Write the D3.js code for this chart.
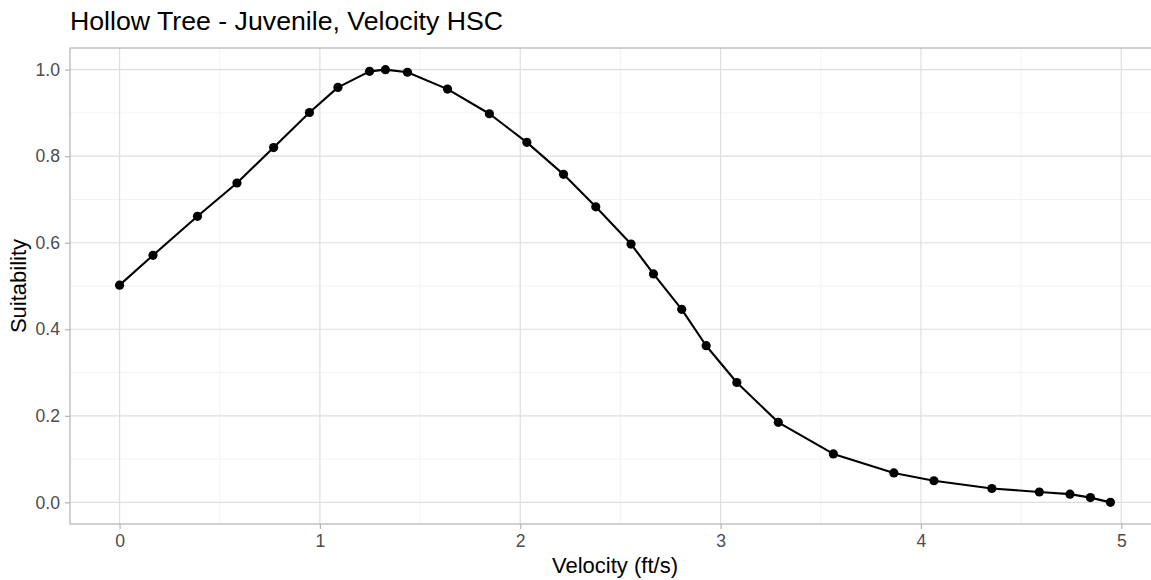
<!DOCTYPE html>
<html>
<head>
<meta charset="utf-8">
<script src="https://cdn.jsdelivr.net/npm/d3@7"></script>
<style>
  html, body { margin: 0; padding: 0; background: #fff; }
  svg { display: block; font-family: "Liberation Sans", Arial, sans-serif; }
</style>
</head>
<body>
<svg id="chart" width="1151" height="580"></svg>
<script>
const velocity = [0, 0.167, 0.389, 0.586, 0.769, 0.948, 1.090, 1.248, 1.327, 1.437, 1.637, 1.846, 2.033, 2.216, 2.377, 2.553, 2.665, 2.806, 2.928, 3.081, 3.288, 3.563, 3.865, 4.065, 4.354, 4.591, 4.744, 4.846, 4.946];
const suitability = [0.502, 0.571, 0.661, 0.738, 0.820, 0.901, 0.959, 0.996, 1.0, 0.994, 0.955, 0.898, 0.832, 0.758, 0.683, 0.597, 0.528, 0.446, 0.362, 0.277, 0.185, 0.112, 0.068, 0.050, 0.032, 0.024, 0.019, 0.011, 0.0];
const xTicks = [0, 1, 2, 3, 4, 5];
const xMinor = [0.5, 1.5, 2.5, 3.5, 4.5];
const yTicks = [0, 0.2, 0.4, 0.6, 0.8, 1.0];
const yMinor = [0.1, 0.3, 0.5, 0.7, 0.9];
const titleText = "Hollow Tree - Juvenile, Velocity HSC";
const xLabel = "Velocity (ft/s)";
const yLabel = "Suitability";

const data = velocity.map((v, i) => ({x: v, y: suitability[i]}));

const panel = {left: 70, right: 1160, top: 48, bottom: 524};
const xr = d3.extent(velocity), xs = (xr[1] - xr[0]) * 0.05;
const x = d3.scaleLinear().domain([xr[0] - xs, xr[1] + xs]).range([panel.left, panel.right]);
const y = d3.scaleLinear().domain([-0.05, 1.05]).range([panel.bottom, panel.top]);

const svg = d3.select("#chart");

// minor grid
svg.append("g").selectAll("line").data(xMinor).join("line")
  .attr("x1", d => x(d)).attr("x2", d => x(d))
  .attr("y1", panel.top).attr("y2", panel.bottom)
  .attr("stroke", "#f0f0f0").attr("stroke-width", 0.8);
svg.append("g").selectAll("line").data(yMinor).join("line")
  .attr("x1", panel.left).attr("x2", panel.right)
  .attr("y1", d => y(d)).attr("y2", d => y(d))
  .attr("stroke", "#f0f0f0").attr("stroke-width", 0.8);
// major grid
svg.append("g").selectAll("line").data(xTicks).join("line")
  .attr("x1", d => x(d)).attr("x2", d => x(d))
  .attr("y1", panel.top).attr("y2", panel.bottom)
  .attr("stroke", "#dedede").attr("stroke-width", 1.2);
svg.append("g").selectAll("line").data(yTicks).join("line")
  .attr("x1", panel.left).attr("x2", panel.right)
  .attr("y1", d => y(d)).attr("y2", d => y(d))
  .attr("stroke", "#dedede").attr("stroke-width", 1.2);

// panel border
svg.append("rect")
  .attr("x", panel.left).attr("y", panel.top)
  .attr("width", panel.right - panel.left).attr("height", panel.bottom - panel.top)
  .attr("fill", "none").attr("stroke", "#b3b3b3").attr("stroke-width", 1.2);

// axes
const xAxis = svg.append("g").attr("transform", `translate(0,${panel.bottom})`)
  .call(d3.axisBottom(x).tickValues(xTicks).tickFormat(d3.format("d")).tickSize(5).tickPadding(6));
const yAxis = svg.append("g").attr("transform", `translate(${panel.left},0)`)
  .call(d3.axisLeft(y).tickValues(yTicks).tickFormat(d3.format(".1f")).tickSize(5).tickPadding(5));
[xAxis, yAxis].forEach(g => {
  g.select(".domain").remove();
  g.selectAll(".tick line").attr("stroke", "#b3b3b3").attr("stroke-width", 1.2);
  g.selectAll(".tick text").attr("fill", "#4d4d4d")
    .style("font-size", "17.6px").style("font-family", '"Liberation Sans", Arial, sans-serif');
});

// line and points
svg.append("path").datum(data)
  .attr("d", d3.line().x(d => x(d.x)).y(d => y(d.y)))
  .attr("fill", "none").attr("stroke", "#000").attr("stroke-width", 2.1)
  .attr("stroke-linejoin", "round");
svg.append("g").selectAll("circle").data(data).join("circle")
  .attr("cx", d => x(d.x)).attr("cy", d => y(d.y)).attr("r", 4.6).attr("fill", "#000");

// titles
svg.append("text").attr("x", panel.left).attr("y", 29.5)
  .attr("fill", "#000").style("font-size", "26.7px").text(titleText);
svg.append("text").attr("x", (panel.left + panel.right) / 2).attr("y", 573)
  .attr("text-anchor", "middle").attr("fill", "#000").style("font-size", "22px").text(xLabel);
svg.append("text").attr("transform", `translate(25.5,${(panel.top + panel.bottom) / 2}) rotate(-90)`)
  .attr("text-anchor", "middle").attr("fill", "#000").style("font-size", "22px").text(yLabel);
</script>
</body>
</html>
